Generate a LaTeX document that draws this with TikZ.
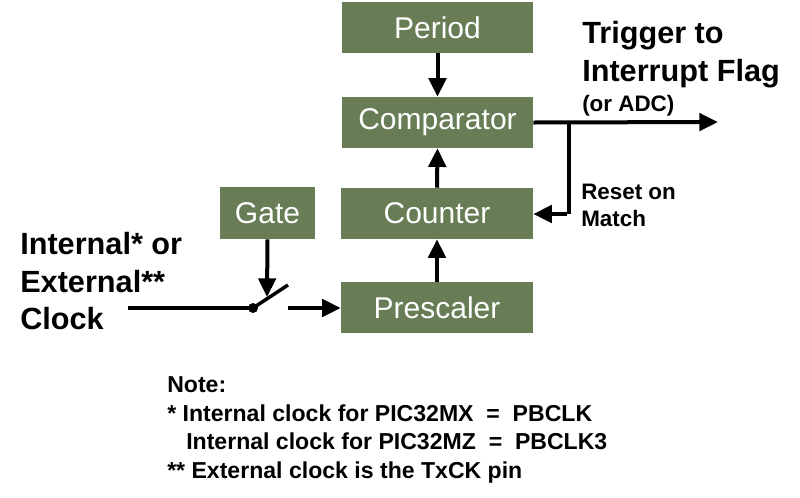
\documentclass[tikz,border=0pt]{standalone}
\usepackage{fontspec}
\setmainfont{Liberation Sans}
\usetikzlibrary{arrows.meta}
\definecolor{boxgreen}{RGB}{104,125,86}
\tikzset{
  blk/.style={fill=boxgreen, draw=none, text=white, inner sep=0pt, font=\fontsize{22.5}{26}\selectfont},
  conn/.style={line width=3pt, -{Triangle[length=14pt,width=13pt]}},
  wire/.style={line width=3pt},
  lbl/.style={anchor=base west, inner sep=0pt, font=\bfseries\fontsize{23}{27}\selectfont},
  sml/.style={anchor=base west, inner sep=0pt, font=\bfseries\fontsize{16.8}{20}\selectfont},
  note/.style={anchor=base west, inner sep=0pt, font=\bfseries\fontsize{17.3}{20}\selectfont},
}
\begin{document}
\begin{tikzpicture}[x=0.75pt,y=-0.75pt]
\useasboundingbox[fill=white] (0,0) rectangle (800,497);
% boxes
\node[blk, minimum width=191*0.75pt, minimum height=51*0.75pt] (period) at (437.5,27.5) {Period};
\node[blk, minimum width=191*0.75pt, minimum height=51*0.75pt] (comp) at (437.5,122.5) {Comparator};
\node[blk, minimum width=192*0.75pt, minimum height=51*0.75pt] (counter) at (437,213.5) {Counter};
\node[blk, minimum width=192*0.75pt, minimum height=51*0.75pt] (presc) at (437,307.5) {Prescaler};
\node[blk, minimum width=95*0.75pt, minimum height=52*0.75pt] (gate) at (267.5,213) {Gate};
% vertical arrows
\draw[conn] (period.south) -- (comp.north);
\draw[conn] (counter.north) -- (comp.south);
\draw[conn] (presc.north) -- (counter.south);
% output
\coordinate (out) at (718,122);
\coordinate (br) at (569,122);
\coordinate (brd) at (569,214);
\draw[conn] (comp.east) -- (out);
\draw[wire] (br) -- (brd);
\draw[conn] ([xshift=-1.5pt]brd) -- (brd -| counter.east);
% clock and switch
\coordinate (cin) at (128,308);
\coordinate (dot) at (253,308);
\coordinate (sw) at (288,285);
\coordinate (sout) at (288,308);
\coordinate (gtip) at (267,297);
\draw[wire] (cin) -- (dot);
\fill (dot) circle (5);
\draw[wire, line width=2.6pt] (dot) -- (sw);
\draw[conn] (gate.south) -- (gtip);
\draw[conn] (sout) -- (sout -| presc.west);
% labels
\node[lbl] (t1) at (582,43) {Trigger to};
\node[lbl] (t2) at (582,81) {Interrupt Flag};
\node[sml] (t3) at (582,111) {(or ADC)};
\node[sml] (r1) at (581,199) {Reset on};
\node[sml] (r2) at (581,226) {Match};
\node[lbl] (c1) at (20,254) {Internal* or};
\node[lbl] (c2) at (20,292) {External**};
\node[lbl] (c3) at (20,329) {Clock};
\node[note] (n1) at (167,392) {Note:};
\node[note] (n2) at (167,421) {* Internal clock for PIC32MX \ = \ PBCLK};
\node[note] (n3) at (186,449) {Internal clock for PIC32MZ \ = \ PBCLK3};
\node[note] (n4) at (167,478) {** External clock is the TxCK pin};
\end{tikzpicture}
\end{document}
